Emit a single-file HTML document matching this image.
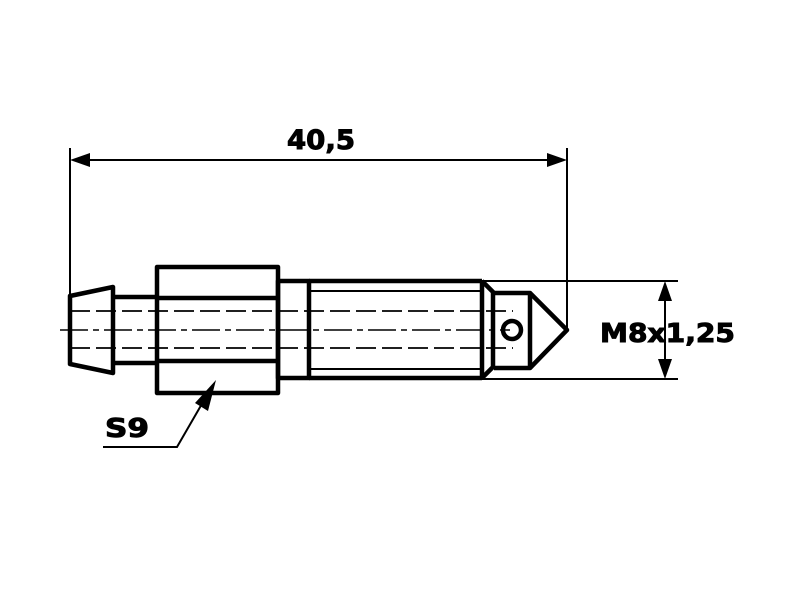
<!DOCTYPE html>
<html><head><style>body{margin:0;background:#fff}svg{display:block}</style></head>
<body>
<svg width="800" height="600" viewBox="0 0 800 600" xmlns="http://www.w3.org/2000/svg">
<rect width="800" height="600" fill="#fff"/>
<g stroke="#000" fill="none" stroke-width="2">
  <line x1="70" y1="148" x2="70" y2="296"/>
  <line x1="567" y1="148" x2="567" y2="330"/>
  <line x1="88" y1="160" x2="549" y2="160"/>
  <line x1="482" y1="281" x2="678" y2="281"/>
  <line x1="482" y1="379" x2="678" y2="379"/>
  <line x1="665" y1="298" x2="665" y2="362"/>
  <polyline points="103,447 177,447 203,402"/>
</g>
<g fill="#000">
  <polygon points="70,160 90,153 90,167"/>
  <polygon points="567,160 547,153 547,167"/>
  <polygon points="665,281 658,301 672,301"/>
  <polygon points="665,379 658,359 672,359"/>
  <polygon points="216,380 195,403 208,411"/>
</g>
<g stroke="#000" fill="none" stroke-width="1.8" stroke-dasharray="20,6">
  <line x1="70" y1="311" x2="513" y2="311"/>
  <line x1="70" y1="348" x2="513" y2="348"/>
</g>
<line x1="60" y1="330" x2="510" y2="330" stroke="#000" stroke-width="1.5" stroke-dasharray="28,5,6,5"/>
<g stroke="#000" fill="none" stroke-width="4.5" stroke-linejoin="round">
  <polygon points="70,296 113,287 113,373 70,364"/>
  <line x1="113" y1="297" x2="157" y2="297"/>
  <line x1="113" y1="363" x2="157" y2="363"/>
  <rect x="157" y="267" width="121" height="126"/>
  <line x1="157" y1="298" x2="278" y2="298"/>
  <line x1="157" y1="361" x2="278" y2="361"/>
  <rect x="278" y="281" width="31" height="97"/>
  <line x1="309" y1="281" x2="482" y2="281"/>
  <line x1="309" y1="378" x2="482" y2="378"/>
  <line x1="482" y1="281" x2="482" y2="378"/>
  <polyline points="482,281 493,292 493,367 482,378"/>
  <polyline points="494,293 530,293 530,368 494,368"/>
  <polyline points="530,293 567,330 530,368"/>
  <circle cx="512" cy="330" r="9"/>
</g>
<g stroke="#000" stroke-width="2">
  <line x1="309" y1="291" x2="482" y2="291"/>
  <line x1="309" y1="369" x2="482" y2="369"/>
</g>
<g font-family="'DejaVu Sans','Liberation Sans',sans-serif" font-weight="bold" fill="#000" stroke="#000" stroke-width="1">
  <text x="287" y="149" font-size="27" textLength="68" lengthAdjust="spacingAndGlyphs">40,5</text>
  <text x="600" y="342" font-size="26" textLength="135" lengthAdjust="spacingAndGlyphs">M8x1,25</text>
  <text x="105" y="437" font-size="26" textLength="44" lengthAdjust="spacingAndGlyphs">S9</text>
</g>
</svg>
</body></html>
